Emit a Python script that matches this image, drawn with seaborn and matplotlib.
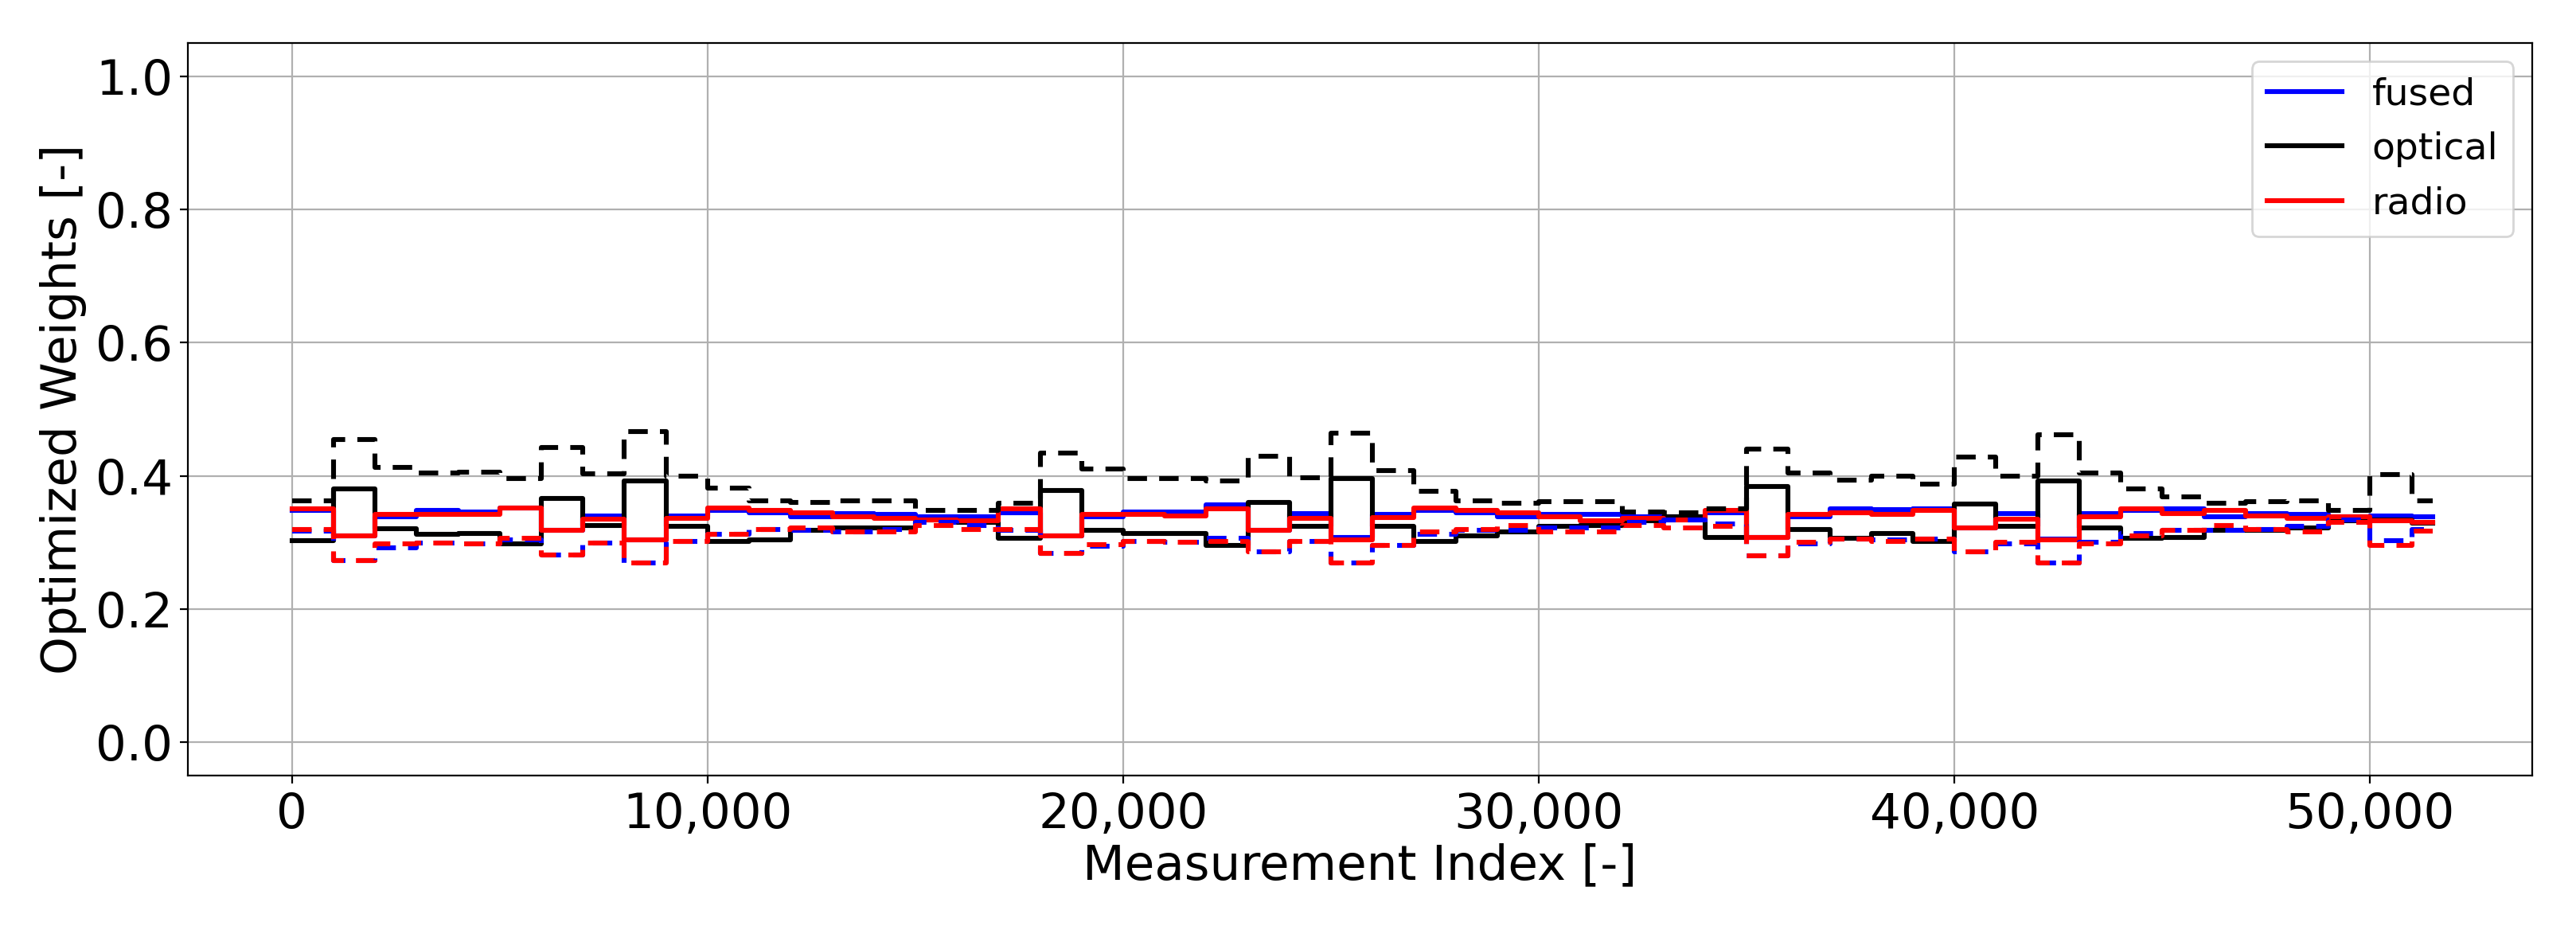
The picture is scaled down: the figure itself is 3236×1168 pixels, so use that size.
import numpy as np
import pandas as pd
import matplotlib
matplotlib.use("Agg")
import matplotlib.pyplot as plt
import seaborn as sns

seg_start = [k * 1000 for k in range(52)]
seg_end = 51500

optical = [0.303,0.380,0.321,0.312,0.314,0.298,0.366,0.326,0.392,0.324,
           0.302,0.304,0.318,0.322,0.322,0.334,0.330,0.306,0.378,0.318,
           0.314,0.314,0.296,0.360,0.324,0.396,0.324,0.302,0.310,0.316,
           0.324,0.326,0.332,0.338,0.308,0.384,0.320,0.306,0.314,0.302,
           0.358,0.324,0.392,0.322,0.306,0.308,0.318,0.318,0.322,0.332,
           0.334,0.329]
optical_d = [0.363,0.455,0.413,0.404,0.405,0.396,0.442,0.403,0.466,0.400,
             0.382,0.362,0.360,0.363,0.362,0.348,0.348,0.359,0.434,0.410,
             0.396,0.396,0.392,0.429,0.397,0.464,0.408,0.377,0.362,0.359,
             0.361,0.361,0.346,0.345,0.350,0.440,0.404,0.393,0.400,0.387,
             0.428,0.400,0.462,0.404,0.380,0.369,0.359,0.361,0.362,0.348,
             0.402,0.363]
fused = [0.348,0.310,0.339,0.348,0.346,0.352,0.318,0.340,0.304,0.340,
         0.348,0.344,0.338,0.343,0.342,0.339,0.338,0.344,0.310,0.338,
         0.346,0.346,0.356,0.318,0.343,0.307,0.342,0.348,0.345,0.338,
         0.342,0.342,0.338,0.338,0.344,0.308,0.338,0.350,0.349,0.351,
         0.322,0.343,0.305,0.343,0.348,0.351,0.338,0.343,0.342,0.338,
         0.340,0.338]
radio = [0.350,0.310,0.342,0.342,0.342,0.352,0.318,0.335,0.304,0.336,
         0.352,0.348,0.344,0.338,0.336,0.334,0.332,0.350,0.310,0.342,
         0.342,0.340,0.350,0.318,0.336,0.304,0.337,0.352,0.348,0.345,
         0.338,0.332,0.336,0.334,0.348,0.308,0.342,0.344,0.342,0.348,
         0.322,0.335,0.304,0.338,0.350,0.343,0.348,0.340,0.336,0.338,
         0.332,0.330]
fused_d = [0.317,0.273,0.292,0.299,0.298,0.304,0.281,0.299,0.269,0.302,
           0.312,0.320,0.318,0.316,0.320,0.330,0.326,0.318,0.284,0.294,
           0.302,0.300,0.306,0.286,0.302,0.269,0.296,0.312,0.318,0.318,
           0.322,0.322,0.330,0.334,0.328,0.280,0.298,0.305,0.304,0.305,
           0.286,0.298,0.269,0.300,0.314,0.318,0.318,0.320,0.324,0.334,
           0.303,0.320]
radio_d = [0.320,0.273,0.298,0.299,0.298,0.306,0.281,0.299,0.269,0.302,
           0.312,0.320,0.322,0.316,0.316,0.326,0.320,0.320,0.284,0.297,
           0.302,0.300,0.302,0.286,0.302,0.269,0.296,0.316,0.320,0.326,
           0.316,0.316,0.326,0.322,0.324,0.280,0.300,0.305,0.302,0.305,
           0.286,0.300,0.269,0.298,0.310,0.318,0.326,0.320,0.316,0.330,
           0.296,0.317]

x = seg_start + [seg_end]
def ext(v):
    return list(v) + [v[-1]]

fig, ax = plt.subplots(figsize=(16.18, 5.84), dpi=200)
fig.subplots_adjust(left=0.073, right=0.983, top=0.954, bottom=0.166)
lw = 2.2
sns.lineplot(x=x, y=ext(fused), ax=ax, color="blue", lw=lw, drawstyle="steps-post", label="fused")
sns.lineplot(x=x, y=ext(optical), ax=ax, color="black", lw=lw, drawstyle="steps-post", label="optical")
sns.lineplot(x=x, y=ext(radio), ax=ax, color="red", lw=lw, drawstyle="steps-post", label="radio")
for vals, col in [(fused_d, "blue"), (optical_d, "black"), (radio_d, "red")]:
    sns.lineplot(x=x, y=ext(vals), ax=ax, color=col, lw=lw, drawstyle="steps-post",
                 legend=False, dashes=False).lines[-1].set_dashes([4, 2.5])

ax.set_xlim(-2500, 53900)
ax.set_ylim(-0.05, 1.05)
ax.set_yticks([0, 0.2, 0.4, 0.6, 0.8, 1.0])
ax.set_xticks([0, 10000, 20000, 30000, 40000, 50000])
ax.set_xticklabels(["0", "10,000", "20,000", "30,000", "40,000", "50,000"])
ax.grid(True, color="#b0b0b0", lw=0.8)
ax.tick_params(labelsize=22)
ax.set_xlabel("Measurement Index [-]", fontsize=22, labelpad=2)
ax.set_ylabel("Optimized Weights [-]", fontsize=22)
ax.legend(loc="upper right", fontsize=17)
fig.savefig("out.png", dpi=200)
